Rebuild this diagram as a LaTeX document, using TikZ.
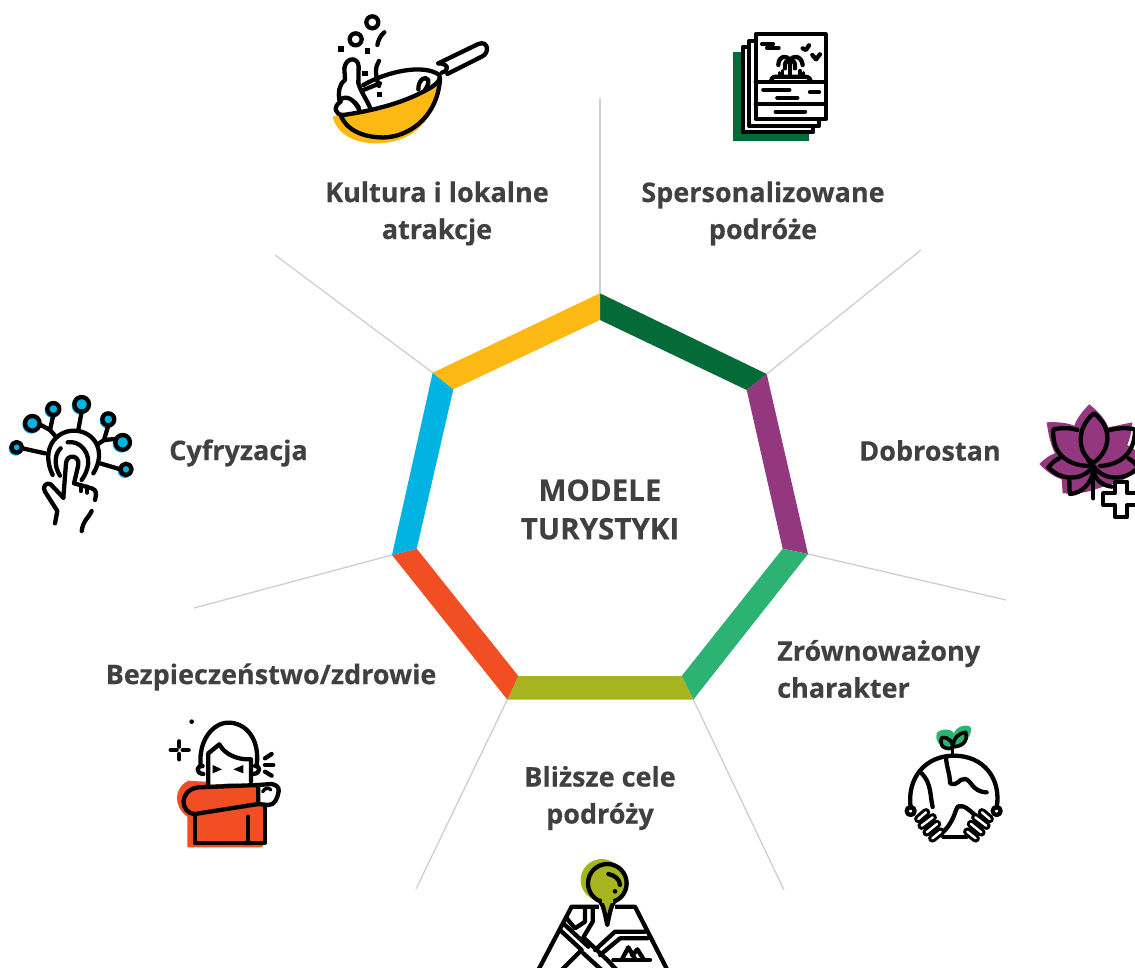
\documentclass[tikz,border=0pt]{standalone}
\usepackage{fontspec}
\setmainfont{Open Sans}[BoldFeatures={FakeBold=0.35}]
\definecolor{cyel}{HTML}{FDB913}
\definecolor{cdgr}{HTML}{046A38}
\definecolor{cpur}{HTML}{93387F}
\definecolor{cgrn}{HTML}{2CB273}
\definecolor{coli}{HTML}{A6B51E}
\definecolor{cred}{HTML}{F24E23}
\definecolor{ccya}{HTML}{00B3E3}
\definecolor{ctxt}{HTML}{404040}
\definecolor{cspk}{HTML}{CFCFCF}
\tikzset{
 spoke/.style={draw=cspk,line width=1.3pt},
 label/.style={font=\fontsize{27}{37}\selectfont\bfseries,text=ctxt,align=center,inner sep=0pt},
 ico/.style={line width=4.3pt,line cap=round,line join=round,draw=black},
 thin/.style={line width=3.4pt,line cap=round,line join=round,draw=black},
 izo/.style={shift={#1},scale=1/3}
}
\begin{document}
\begin{tikzpicture}[x=1pt,y=-1pt]
\useasboundingbox (0,0) rectangle (1135,968);
\fill[white] (0,0) rectangle (1135,968);
% vertices
\coordinate (o1) at (600,293.3);   \coordinate (i1) at (600,320);
\coordinate (o2) at (766.7,374);   \coordinate (i2) at (746.7,390);
\coordinate (o3) at (808,554);     \coordinate (i3) at (782.7,548.7);
\coordinate (o4) at (693.3,699.6); \coordinate (i4) at (681.7,676);
\coordinate (o5) at (507.3,699.6); \coordinate (i5) at (518.3,676);
\coordinate (o6) at (392,555);     \coordinate (i6) at (416.7,548.7);
\coordinate (o7) at (432.7,372.7); \coordinate (i7) at (453.3,389.3);
% free spoke ends
\coordinate (e1) at (600,98);
\coordinate (e2) at (921,250);
\coordinate (e3) at (1006,600);
\coordinate (e4) at (784,890);
\coordinate (e5) at (416,889);
\coordinate (e6) at (194,608);
\coordinate (e7) at (275,255);
\foreach \k in {1,...,7} \draw[spoke] (o\k) -- (e\k);
% ring
\fill[cdgr] (o1)--(o2)--(i2)--(i1)--cycle;
\fill[cpur] (o2)--(o3)--(i3)--(i2)--cycle;
\fill[cgrn] (o3)--(o4)--(i4)--(i3)--cycle;
\fill[coli] (o4)--(o5)--(i5)--(i4)--cycle;
\fill[cred] (o5)--(o6)--(i6)--(i5)--cycle;
\fill[ccya] (o6)--(o7)--(i7)--(i6)--cycle;
\fill[cyel] (o7)--(o1)--(i1)--(i7)--cycle;
% labels
\node[label,font=\fontsize{29.5}{38.5}\selectfont\bfseries] (center) at (600,509.5) {MODELE\\TURYSTYKI};
\node[label] (kult) at (437,213.5) {Kultura i lokalne\\atrakcje};
\node[label] (spers) at (763,213.5) {Spersonalizowane\\podróże};
\node[label] (dobr) at (930,450.5) {Dobrostan};
\node[label] (cyfr) at (238.5,453) {Cyfryzacja};
\node[label,anchor=west,align=left] (zrow) at (777,669) {Zrównoważony\\charakter};
\node[label] (blis) at (600,798) {Bliższe cele\\podróży};
\node[label] (bezp) at (271,677) {Bezpieczeństwo/zdrowie};
% ---- wok
\begin{scope}[izo={(310,0)}]
\fill[cyel] (85,345) .. controls (200,335) and (320,290) .. (385,250) .. controls (395,300) and (350,380) .. (290,410) .. controls (220,445) and (90,440) .. (68,350) -- cycle;
\draw[ico] (100,345) .. controls (75,345) and (68,320) .. (92,305);
\draw[ico] (160,255) .. controls (230,215) and (340,190) .. (388,225) .. controls (395,245) and (370,260) .. (330,280) .. controls (260,315) and (170,335) .. (100,345);
\draw[ico] (92,345) .. controls (110,395) and (170,415) .. (230,412) .. controls (310,405) and (385,340) .. (390,235);
\draw[ico] (385,190) -- (505,132) .. controls (535,120) and (540,160) .. (515,170) -- (412,222);
\draw[ico] (385,190) .. controls (415,190) and (420,212) .. (395,218);
\draw[ico] (180,322) .. controls (165,290) and (150,270) .. (145,250) -- (146,200) .. controls (145,170) and (108,170) .. (103,205) -- (105,240) .. controls (85,255) and (85,280) .. (88,300) .. controls (110,285) and (130,295) .. (148,330);
\draw[ico] (160,270) -- (210,250);
\draw[ico] (325,268) .. controls (325,240) and (345,225) .. (355,240) .. controls (357,250) and (350,262) .. (345,270);
\draw[thin] (125,298) -- (135,310); \draw[thin] (135,305) -- (148,322);
\draw[ico] (187,67) circle (18);
\draw[ico] (137,118) circle (18);
\draw[ico] (202,135) .. controls (205,120) and (212,105) .. (223,97);
\draw[ico] (207,183) .. controls (195,200) and (195,225) .. (207,258);
\foreach \p in {(93,147),(173,153),(165,220),(209,284)} \fill \p ++(-8,-8) rectangle ++(16,16);
\end{scope}
% ---- brochure
\begin{scope}[izo={(710,20)}]
\fill[cdgr] (70,97) rectangle (297,363);
\draw[ico,fill=white] (99,80) rectangle (308,337);
\draw[ico,fill=white] (118,62) rectangle (327,318);
\draw[ico,fill=white] (137,43) rectangle (347,297);
\draw[ico] (137,187) -- (347,187);
\draw[ico] (137,253) -- (347,253);
\draw[ico] (183,185) .. controls (185,172) and (190,170) .. (200,170) -- (285,170) .. controls (298,172) and (300,175) .. (302,185);
\draw[ico] (240,168) -- (240,125);
\draw[ico] (205,135) .. controls (205,105) and (235,105) .. (240,122) .. controls (245,105) and (275,105) .. (278,135);
\draw[ico] (225,145) .. controls (222,125) and (232,120) .. (240,122) .. controls (248,120) and (258,125) .. (255,145);
\draw[thin] (218,152)--(218,168); \draw[thin] (208,158)--(208,168); \draw[thin] (270,152)--(270,168); \draw[thin] (280,158)--(280,168);
\draw[thin] (155,72)--(190,72); \draw[thin] (170,84)--(207,84);
\draw[ico] (278,85)--(288,90)--(297,76);
\draw[ico] (307,105)--(318,118)--(330,103);
\draw[ico] (160,209)--(238,209);
\draw[ico] (300,217)--(327,217);
\draw[ico] (202,233)--(262,233);
\draw[ico] (197,275)--(285,275);
\end{scope}
% ---- lotus
\begin{scope}[izo={(1020,390)}]
\fill[cpur] (208,43) .. controls (230,60) and (255,85) .. (265,112) -- (337,97) .. controls (335,125) and (330,145) .. (322,165) -- (360,190) -- (360,230) .. controls (330,265) and (290,280) .. (250,290) -- (220,300) .. controls (190,310) and (160,312) .. (128,310) -- (125,268) .. controls (100,260) and (75,240) .. (58,222) .. controls (75,205) and (90,195) .. (105,190) .. controls (90,160) and (85,130) .. (80,97) .. controls (110,95) and (140,98) .. (163,107) .. controls (170,85) and (190,60) .. (208,43) -- cycle;
\draw[ico] (215,215) .. controls (175,190) and (165,115) .. (222,70) .. controls (280,115) and (270,180) .. (225,215);
\draw[ico] (205,228) .. controls (140,225) and (95,190) .. (100,118) .. controls (125,113) and (150,113) .. (172,120);
\draw[ico] (240,228) .. controls (300,225) and (345,190) .. (345,118) .. controls (320,113) and (290,113) .. (264,122);
\draw[ico] (118,205) .. controls (105,210) and (95,220) .. (85,232) .. controls (120,270) and (180,275) .. (215,235);
\draw[ico] (325,205) .. controls (335,210) and (345,220) .. (355,232) .. controls (320,270) and (260,275) .. (225,235);
\draw[ico] (148,268) .. controls (148,285) and (148,300) .. (150,312) .. controls (185,310) and (215,280) .. (220,240);
\draw[ico] (220,240) .. controls (225,265) and (240,285) .. (275,290);
\draw[ico] (220,230) -- (220,325);
\draw[ico] (205,212) -- (225,232);
\fill (188,185) circle (6);
\draw[ico,fill=white] (250,310)--(285,310)--(285,275)--(322,275)--(322,310)--(360,310)--(360,345)--(322,345)--(322,380)--(285,380)--(285,345)--(250,345)--cycle;
\end{scope}
% ---- globe
\begin{scope}[izo={(890,715)}]
\fill[cgrn] (140,55) .. controls (150,40) and (185,40) .. (192,55) .. controls (200,30) and (240,25) .. (243,40) .. controls (245,70) and (215,90) .. (195,100) -- (165,100) .. controls (145,90) and (135,75) .. (140,55) -- cycle;
\draw[ico,line width=3.6pt] (188,122)--(188,90);
\draw[ico,line width=3.6pt] (188,100) .. controls (150,105) and (150,80) .. (155,68) .. controls (180,65) and (190,85) .. (188,100);
\draw[ico,line width=3.6pt] (190,95) .. controls (188,70) and (205,55) .. (227,52) .. controls (235,80) and (215,95) .. (190,95);
\draw[ico] (62,278) .. controls (50,190) and (105,122) .. (192,122) .. controls (280,122) and (335,190) .. (320,278);
\draw[ico] (160,365) -- (230,365);
\draw[ico] (168,127) .. controls (170,160) and (180,175) .. (180,205) .. controls (205,215) and (205,190) .. (225,192) .. controls (245,195) and (245,230) .. (290,232);
\draw[ico] (95,175) .. controls (125,205) and (120,245) .. (128,276);
\draw[ico] (262,305) .. controls (240,290) and (225,268) .. (205,274) .. controls (195,280) and (195,320) .. (155,355);
\draw[ico] (62,288) circle (12);
\draw[ico] (320,288) circle (12);
\foreach \a/\b/\c/\d in {85/312/108/292, 95/332/128/307, 110/352/141/327, 127/370/152/350} {
 \draw[black,line width=8.5pt,line cap=round] (\a,\b)--(\c,\d);
 \draw[black,line width=8.5pt,line cap=round] ({384-\a},\b)--({384-\c},\d);
}
\foreach \a/\b/\c/\d in {85/312/108/292, 95/332/128/307, 110/352/141/327, 127/370/152/350} {
 \draw[white,line width=2.4pt,line cap=round] (\a,\b)--(\c,\d);
 \draw[white,line width=2.4pt,line cap=round] ({384-\a},\b)--({384-\c},\d);
}
\end{scope}
% ---- map
\begin{scope}[izo={(520,850)}]
\draw[ico] (55,360) -- (155,170) -- (345,170) -- (442,360);
\draw[ico] (140,205) -- (165,235) -- (195,215) -- (195,172);
\draw[ico] (218,172) -- (218,215) -- (190,262) -- (262,330) -- (290,360);
\draw[ico] (120,240) -- (185,300) -- (125,360);
\draw[ico] (135,225) -- (205,290);
\draw[ico] (190,310) -- (245,360);
\draw[ico] (225,300) -- (285,245) -- (375,245);
\draw[ico] (240,315) -- (300,265) -- (382,265);
\draw[ico] (280,330) -- (390,330);
\draw[ico] (305,330) -- (325,292) -- (347,330);
\draw[ico] (337,316) -- (352,298) -- (372,330);
\fill[coli] (245,90) circle (63);
\fill[white] (238,165) rectangle (285,215);
\draw[ico,fill=coli] (262,100) circle (58);
\draw[ico,fill=coli,line join=round] (240,152) .. controls (252,170) and (255,195) .. (262,225) .. controls (268,195) and (272,170) .. (284,152);
\fill[coli] (246,140) rectangle (278,158);
\draw[ico] (265,72) .. controls (285,75) and (300,90) .. (300,105);
\fill (285,124) circle (7);
\end{scope}
% ---- person
\begin{scope}[izo={(160,710)}]
\fill[cred] (85,212) .. controls (40,235) and (40,290) .. (82,320) -- (82,412) -- (305,412) -- (315,398) -- (315,270) -- (295,225) -- cycle;
\draw[ico,fill=white] (145,225) -- (145,130) -- (178,103) .. controls (195,135) and (235,150) .. (273,148) -- (273,215);
\draw[ico,fill=cred] (115,232) -- (295,225) -- (295,282) -- (105,312) .. controls (60,310) and (55,240) .. (115,232);
\draw[ico] (105,312) -- (105,398) -- (315,398) -- (315,282);
\draw[ico] (265,320) -- (265,395);
\draw[ico,fill=white] (295,225) -- (335,222) .. controls (350,225) and (358,232) .. (356,245) .. controls (352,265) and (345,285) .. (325,285) -- (295,282) -- cycle;
\draw[thin] (308,245) .. controls (315,232) and (328,232) .. (332,240);
\draw[ico] (122,165) .. controls (115,90) and (160,38) .. (205,38) .. controls (260,38) and (300,90) .. (290,165);
\draw[ico] (128,168) .. controls (110,165) and (105,190) .. (130,192);
\draw[ico] (285,168) .. controls (300,165) and (305,190) .. (280,192);
\fill (158,165)--(186,178)--(158,190)--cycle;
\fill (250,165)--(220,178)--(250,190)--cycle;
\draw[ico] (315,145)--(335,132);
\draw[ico] (315,165)--(340,165);
\draw[ico] (315,185)--(335,197);
\fill (95,35) circle (7);
\draw[ico] (32,120)--(50,120); \draw[ico] (68,120)--(86,120); \draw[ico] (58,94)--(58,110); \draw[ico] (58,132)--(58,148);
\end{scope}
% ---- digital
\begin{scope}[izo={(0,385)}]
\foreach \x/\y/\r in {50/187/16,97/115/22,160/72/18,245/58/22,325/103/18,368/172/22,378/253/17}{
 \fill[ccya] (\x-3,\y+4) circle (\r+5);
 \draw[ico,fill=ccya] (\x,\y) circle (\r);
}
\draw[ico] (67,190)--(135,205);
\draw[ico] (119,118)--(150,135)--(165,152);
\draw[ico] (160,90)--(150,135);
\draw[ico] (245,80)--(235,135);
\draw[ico] (325,121)--(312,165)--(293,178);
\draw[ico] (346,162)--(312,165);
\draw[ico] (361,253)--(300,235);
\draw[ico] (158,270) .. controls (120,190) and (170,135) .. (225,137) .. controls (285,140) and (320,200) .. (280,265);
\draw[ico] (180,272) .. controls (160,240) and (165,205) .. (182,190);
\draw[ico] (203,172) .. controls (240,165) and (275,205) .. (262,250) .. controls (258,265) and (252,275) .. (245,285);
\draw[ico] (190,338) -- (198,235) .. controls (200,205) and (240,210) .. (235,240) -- (222,295) -- (275,310) .. controls (290,315) and (290,325) .. (285,345);
\draw[ico] (275,378) .. controls (265,400) and (250,405) .. (245,438);
\draw[ico] (190,338) -- (152,298) .. controls (140,290) and (125,305) .. (135,320) -- (172,378) -- (165,415);
\draw[ico] (242,300)--(242,318); \draw[ico] (262,305)--(262,323);
\end{scope}
\end{tikzpicture}
\end{document}
